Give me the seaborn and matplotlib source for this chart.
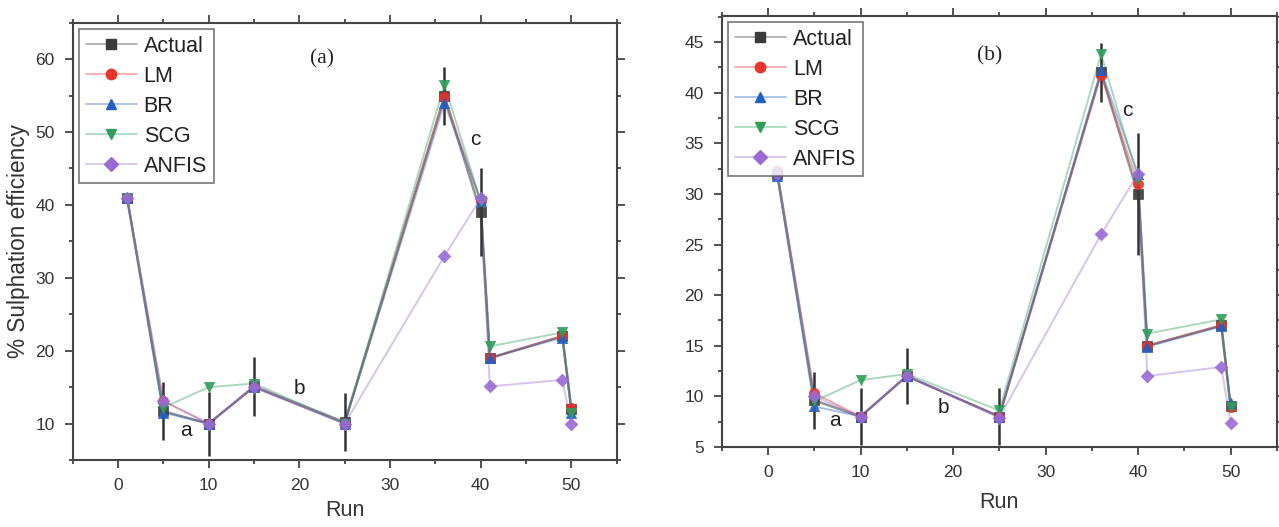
import matplotlib
matplotlib.use("Agg")
import matplotlib.pyplot as plt
import seaborn as sns
import numpy as np
import pandas as pd
from matplotlib.lines import Line2D
from matplotlib.ticker import MultipleLocator

# ---------------- data ----------------
runs = [1, 5, 10, 15, 25, 36, 40, 41, 49, 50]
series_names = ["Actual", "LM", "BR", "SCG", "ANFIS"]

# panel (a)
a_actual = [41, 11.7, 10, 15.1, 10.2, 54.9, 39, 19, 22, 12]
a_lm     = [41, 13.1, 10, 15.0, 10.0, 54.8, 40.5, 19, 22, 12.2]
a_br     = [41, 11.5, 10, 15.0, 10.0, 54.0, 40.5, 19, 21.8, 11.5]
a_scg    = [41, 12.2, 15, 15.5, 10.0, 56.5, 40.5, 20.6, 22.5, 11.5]
a_anfis  = [41, 13.1, 10, 15.0, 10.0, 33.0, 40.9, 15.1, 16.0, 9.9]
a_err    = [0, 4.0, 4.4, 4.0, 4.0, 4.0, 6.0, 0, 0, 0]

# panel (b)
b_actual = [32, 9.6, 8, 12, 8, 42.0, 30, 15, 17, 9]
b_lm     = [32.3, 10.3, 8, 12, 8, 41.8, 31, 15, 17, 8.9]
b_br     = [31.8, 9.0, 8, 12, 8, 42.2, 32, 14.9, 16.9, 9.3]
b_scg    = [32, 9.5, 11.6, 12.2, 8.6, 43.8, 31.5, 16.2, 17.6, 8.9]
b_anfis  = [32, 10.0, 8, 12, 7.9, 26.0, 32, 12.0, 12.9, 7.4]
b_err    = [0, 2.8, 2.8, 2.8, 2.8, 2.9, 6.0, 0, 0, 0]

colors = {"Actual": "#3a3a3a", "LM": "#e8342c", "BR": "#2160c4",
          "SCG": "#2e9e5a", "ANFIS": "#9a6ad6"}
markers = {"Actual": "s", "LM": "o", "BR": "^", "SCG": "v", "ANFIS": "D"}
msizes = {"Actual": 42, "LM": 55, "BR": 55, "SCG": 55, "ANFIS": 42}

sns.set_style("ticks")
plt.rcParams['font.family'] = ['Liberation Sans', 'DejaVu Sans']

fig = plt.figure(figsize=(12.79, 5.27), dpi=100)
ax_a = fig.add_axes([0.0568, 0.127, 0.4254, 0.830])
ax_b = fig.add_axes([0.5643, 0.152, 0.4340, 0.818])

def draw(ax, vals, err, ylim, ymaj, ymin, panel, ann, xlabelpad):
    df = pd.DataFrame({"Run": runs})
    for name, v in zip(series_names, vals):
        df[name] = v
    long = df.melt(id_vars="Run", var_name="Model", value_name="Eff")
    for name in series_names:
        sub = long[long.Model == name]
        lw = 1.8 if name == "Actual" else 1.4
        alpha = 0.55 if name == "Actual" else 0.4
        sns.lineplot(data=sub, x="Run", y="Eff", color=colors[name], lw=lw,
                     alpha=alpha, ax=ax, legend=False, zorder=2)
    # error bars on Actual
    ax.errorbar(runs, vals[0], yerr=err, fmt="none", ecolor="#333333",
                elinewidth=1.8, capsize=0, zorder=3)
    for name in series_names:
        sub = long[long.Model == name]
        sns.scatterplot(data=sub, x="Run", y="Eff", color=colors[name],
                        marker=markers[name], s=msizes[name],
                        edgecolor=colors[name], linewidth=0.5, alpha=0.9,
                        ax=ax, legend=False, zorder=4)
    ax.set_xlim(-5, 55)
    ax.set_ylim(*ylim)
    ax.xaxis.set_major_locator(MultipleLocator(10))
    ax.xaxis.set_minor_locator(MultipleLocator(5))
    ax.yaxis.set_major_locator(MultipleLocator(ymaj))
    ax.yaxis.set_minor_locator(MultipleLocator(ymin))
    ax.tick_params(which="both", direction="out", top=True, right=True,
                   labeltop=False, labelright=False, color="#444444",
                   width=1.3, labelsize=12.5, labelcolor="#333333")
    ax.tick_params(which="major", length=6, pad=7)
    ax.tick_params(which="minor", length=3)
    for sp in ax.spines.values():
        sp.set_visible(True)
        sp.set_color("#444444")
        sp.set_linewidth(1.5)
    ax.set_xlabel("Run", fontsize=15.5, color="#333333", labelpad=xlabelpad)
    handles = []
    for name in series_names:
        r, g, b, _ = matplotlib.colors.to_rgba(colors[name])
        handles.append(Line2D([], [], color=(r, g, b, 0.4), lw=1.3,
                              marker=markers[name], markersize=7.5,
                              markerfacecolor=colors[name],
                              markeredgecolor=colors[name]))
    leg = ax.legend(handles, series_names, loc="upper left", fontsize=15.5,
                    frameon=True, fancybox=False, edgecolor="#555555",
                    handlelength=2.4, handletextpad=0.3, labelspacing=0.42,
                    borderpad=0.3, borderaxespad=0.3)
    leg.get_frame().set_linewidth(1.2)
    for t in leg.get_texts():
        t.set_color("#222222")
    ax.text(ann["panel"][0], ann["panel"][1], panel, fontsize=15.5,
            family=["Liberation Serif", "DejaVu Serif"], color="#222222",
            ha="center", va="center")
    for lab in ["a", "b", "c"]:
        ax.text(ann[lab][0], ann[lab][1], lab, fontsize=15, color="#222222",
                ha="center", va="center")

draw(ax_a, [a_actual, a_lm, a_br, a_scg, a_anfis], a_err, (5, 65), 10, 5, "(a)",
     {"panel": (22.5, 60), "a": (7.5, 9.0), "b": (20, 14.8), "c": (39.4, 49.0)},
     xlabelpad=5)
ax_a.set_ylabel("% Sulphation efficiency", fontsize=16.3, color="#333333",
                labelpad=4)

draw(ax_b, [b_actual, b_lm, b_br, b_scg, b_anfis], b_err, (5, 47.6), 5, 2.5, "(b)",
     {"panel": (24, 43.6), "a": (7.2, 7.6), "b": (19, 8.9), "c": (38.8, 38.2)},
     xlabelpad=9)
ax_b.set_ylabel("")

fig.savefig("out.png", dpi=100)
